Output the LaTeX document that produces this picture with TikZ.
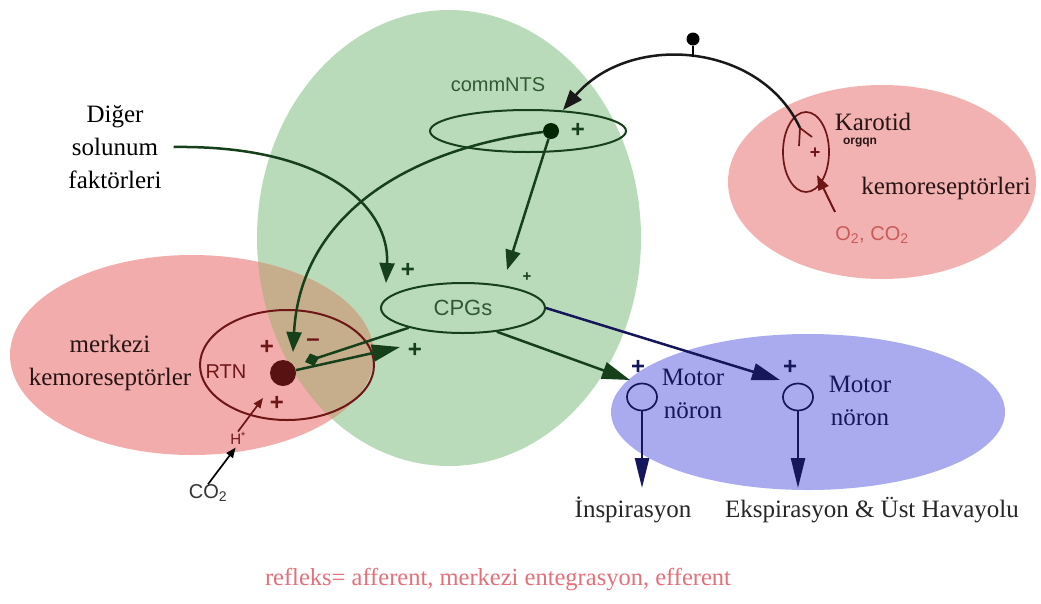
\documentclass[tikz,border=0pt]{standalone}
\usepackage{fontspec}
\setmainfont{Liberation Serif}
\newfontfamily\sansf{Liberation Sans}
\usetikzlibrary{arrows.meta,shapes.geometric}
\definecolor{gfill}{RGB}{186,219,186}
\definecolor{pfill}{RGB}{242,172,172}
\definecolor{pfilltwo}{RGB}{242,178,178}
\definecolor{tanfill}{RGB}{198,174,140}
\definecolor{bfill}{RGB}{170,170,238}
\definecolor{dgreen}{RGB}{22,64,26}
\definecolor{tgreen}{RGB}{50,90,50}
\definecolor{dred}{RGB}{110,22,22}
\definecolor{navy}{RGB}{22,22,90}
\definecolor{txtdark}{RGB}{40,20,20}
\definecolor{pinktxt}{RGB}{228,112,122}
\definecolor{otwored}{RGB}{200,90,90}
\begin{document}
\begin{tikzpicture}[x=1pt,y=-1pt,
  lbl/.style={font=\fontsize{25}{33}\selectfont, inner sep=0pt, align=center},
  sanslbl/.style={font=\sansf\fontsize{20}{24}\selectfont, inner sep=0pt},
  plus/.style={font=\sansf\bfseries\fontsize{24}{24}\selectfont, inner sep=0pt},
  ring/.style={ellipse, draw, line width=2pt, inner sep=0pt},
  wire/.style={line width=2.5pt},
  bigtip/.style={-{Triangle[length=28pt,width=17pt]}},
  midtip/.style={-{Triangle[length=20pt,width=15pt]}},
  downtip/.style={-{Triangle[length=30pt,width=14pt]}},
  smalltip/.style={-{Triangle[length=10pt,width=8pt]}},
]
\useasboundingbox (0,0) rectangle (1041,603);
\fill[white] (0,0) rectangle (1041,603);

% background regions
\fill[gfill] (449,238) ellipse [x radius=192pt, y radius=228pt];
\fill[pfill] (192,355) ellipse [x radius=182pt, y radius=100pt];
\begin{scope}
\clip (449,238) ellipse [x radius=192pt, y radius=228pt];
\fill[tanfill] (192,355) ellipse [x radius=182pt, y radius=100pt];
\end{scope}
\fill[pfilltwo] (882,182) ellipse [x radius=154pt, y radius=97pt];
\fill[bfill] (808,412) ellipse [x radius=197pt, y radius=78pt];

% nodes
\node[sanslbl, text=tgreen] (ntslbl) at (498,85) {commNTS};
\node[ring, draw=dgreen, minimum width=196pt, minimum height=42pt] (nts) at (528,131) {};
\node[circle, fill=black!85!green, minimum size=16pt, inner sep=0pt] (ntsdot) at (551,131) {};
\node[plus, text=dgreen] (ntsplus) at (578,130) {+};

\node[ring, draw=dgreen, text=tgreen, font=\sansf\fontsize{22}{22}\selectfont, minimum width=164pt, minimum height=50pt] (cpg) at (463,308) {CPGs};

\node[ring, draw=dred, minimum width=174pt, minimum height=110pt] (rtn) at (287,365) {};
\node[sanslbl, text=dred] (rtnlbl) at (226,372) {RTN};
\node[circle, fill=dred!80!black, minimum size=26pt, inner sep=0pt] (rtndot) at (283,373) {};

\node[ring, draw=dred, line width=1.7pt, minimum width=46pt, minimum height=80pt] (karring) at (806,152) {};

\node[ring, draw=navy, line width=1.7pt, minimum width=30pt, minimum height=27pt] (mot1) at (642,397) {};
\node[ring, draw=navy, line width=1.7pt, minimum width=30pt, minimum height=27pt] (mot2) at (798,397) {};

% labels
\node[lbl] (diger) at (115,147) {Diğer\\solunum\\faktörleri};
\node[lbl, text=txtdark] (merk) at (110,363) {merkezi\\kemoreseptörler};
\node[lbl, text=txtdark] (karlbl) at (873,122) {Karotid};
\node[font=\sansf\bfseries\fontsize{12}{12}\selectfont, text=txtdark, inner sep=0pt] (organ) at (860,143) {orgqn};
\node[lbl, text=txtdark] (kemlbl) at (946,188) {kemoreseptörleri};
\node[sanslbl, text=otwored] (otwo) at (872,235) {O\textsubscript{2}, CO\textsubscript{2}};
\node[lbl, text=navy] (moneLbl) at (693,394) {Motor\\nöron};
\node[lbl, text=navy] (mtwoLbl) at (860,401) {Motor\\nöron};
\node[lbl, text=black!85] (insp) at (633,510) {İnspirasyon};
\node[lbl, text=black!85] (eksp) at (872,510) {Ekspirasyon \& Üst Havayolu};
\node[lbl, text=pinktxt, font=\fontsize{24.5}{24.5}\selectfont] (refl) at (498,580) {refleks= afferent, merkezi entegrasyon, efferent};
\node[sanslbl, text=black!80] (cotwo) at (208,493) {CO\textsubscript{2}};
\node[font=\sansf\fontsize{15}{15}\selectfont, text=dred, inner sep=0pt] (hion) at (238,438) {H\textsuperscript{*}};

% signs
\node[plus, text=dgreen] (pa) at (408,270) {+};
\node[plus, text=dgreen, font=\sansf\bfseries\fontsize{15}{15}\selectfont] (pb) at (527,277) {+};
\node[plus, text=dgreen] (pc) at (415,350) {+};
\node[plus, text=dred] (pd) at (267,347) {+};
\node[plus, text=dred] (pe) at (277,403) {+};
\node[plus, text=dred, font=\sansf\bfseries\fontsize{18}{18}\selectfont] (pf) at (815,153) {+};
\node[plus, text=navy] (pg) at (638,367) {+};
\node[plus, text=navy] (ph) at (790,367) {+};
\node[plus, text=dred] (mi) at (313,343) {\textendash};

% connector end points
\coordinate (cpgtipA) at (386,283);
\coordinate (cpgtipB) at (507,270);
\coordinate (rtntip) at (293,352);
\coordinate (ntstip) at (563,110);
\coordinate (karnerve) at (800,128);
\coordinate (kbone) at (812,137);
\coordinate (kbtwo) at (799,146);
\coordinate (arctop) at (693,57);
\coordinate (rtnout) at (400,347);
\coordinate (rtninh) at (305,362);
\coordinate (moneIn) at (630,380);
\coordinate (mtwoIn) at (780,380);
\coordinate (rtnin) at (263,398);
\coordinate (karin) at (817,175);
\coordinate (otwosrc) at (835,212);
\coordinate (inspin) at (642,488);
\coordinate (ekspin) at (798,488);
\node[circle, fill=black, minimum size=13pt, inner sep=0pt] (lolli) at (693,39) {};

% connectors
\draw[wire, dgreen, midtip] ([xshift=12pt]diger.east) .. controls (330,145) and (390,210) .. (cpgtipA);
\draw[wire, dgreen, midtip] (ntsdot) -- (cpgtipB);
\draw[wire, dgreen, midtip] (ntsdot) .. controls (400,150) and (300,220) .. (rtntip);
\draw[wire, black!90, midtip] (karnerve) .. controls (760,42) and (630,32) .. (ntstip);
\draw[wire] (lolli) -- (arctop);
\draw[line width=1.7pt, dred] (karnerve) -- (kbone);
\draw[line width=1.7pt, dred] (karnerve) -- (kbtwo);
\draw[wire, dgreen, -{Diamond[length=15pt,width=13pt]}] (cpg.200) -- (rtninh);
\draw[wire, dgreen, bigtip] (rtndot) -- (rtnout);
\draw[wire, dgreen, bigtip] (cpg.-35) -- (moneIn);
\draw[wire, navy, bigtip] (cpg.east) -- (mtwoIn);
\draw[wire, navy, downtip] (mot1) -- (inspin);
\draw[wire, navy, downtip] (mot2) -- (ekspin);
\draw[line width=1.7pt, dred, smalltip] (hion.north) -- (rtnin);
\draw[line width=1.7pt, black, smalltip, shorten >=4pt] (cotwo.north) -- (hion.south);
\draw[line width=2pt, dred, -{Triangle[length=15pt,width=11pt]}] (otwosrc) -- (karin);
\end{tikzpicture}
\end{document}
